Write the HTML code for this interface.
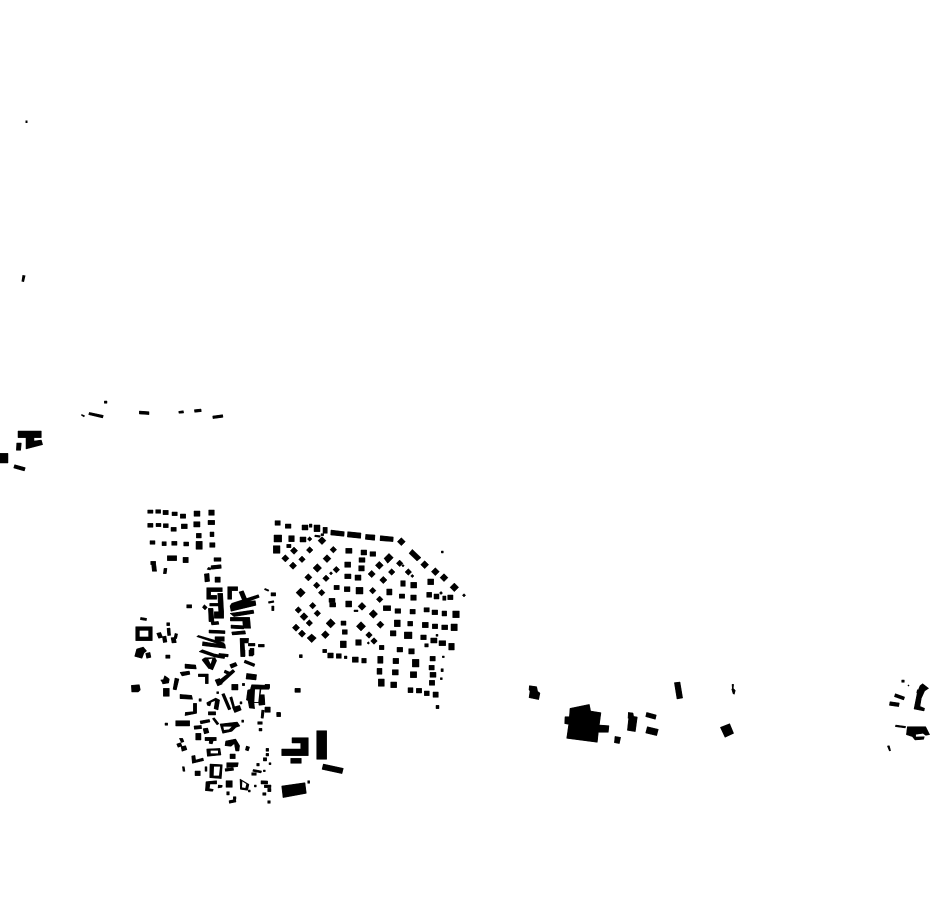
<!DOCTYPE html>
<html><head><meta charset="utf-8"><style>html,body{margin:0;padding:0;background:#fff;width:930px;height:924px;overflow:hidden}svg{display:block}.h{fill:#fff;stroke:none}</style></head><body>
<svg width="930" height="924" viewBox="0 0 930 924" xmlns="http://www.w3.org/2000/svg" fill="#000">
<rect width="930" height="924" fill="#fff"/>
<path d="M25.500 120.500h2v2.500h-2zM22.500 275l3 .5-1.500 6.500-2.500-.5z"/>
<g stroke="#000" stroke-width="1.500">
<!-- zoom4 -->
<g transform="translate(0,395) scale(.33333)"><path d="M54 108h70v20h-22v10l22-3 4 14-50 13v-34h-24zM50 144h14l-2 22h-13zM0 175h24v29h-24zM44 209l32 9-3 10-32-9zM245 58l9 4-2 4-8-5zM268 52l42 9-2 8-42-10zM313 18h8v7h-8zM418 48l29 2v9l-29-2zM536 49l14-2 1 7-14 1zM583 44l20-2 1 8-20 2zM638 63l30-4 1 8-30 4z"/></g>
<!-- zoom1 -->
<g transform="translate(125,500) scale(.33333)"><path d="M68 30h16v10h-16zM92 29h15v11h-15zM114 31h16v13h-16zM141 36h16v11h-16zM166 42h16v13h-16zM207 33h18v16h-18zM251 30h17v16h-17zM68 70h16v12h-16zM93 70h15v10h-15zM115 71h15v12h-15zM138 82h16v12h-16zM169 72h18v14h-18zM206 65h19v16h-19zM249 61h20v13h-20zM214 100h15v14h-15zM255 96h12v14h-12zM75 122h15v11h-15zM111 125h13v12h-13zM140 124h16v12h-16zM176 126h15v12h-15zM213 124h19v24h-19zM254 128h16v14h-16zM127 167h28v15h-28zM174 172h16v16h-16zM77 184h15v6l3 24h-13l-2-20h-3zM117 205h9l-2 16h-9zM267 173h21v11h-21zM246 208l4-6 9 2-3 6zM258 197l30-3 1 11-30 3zM238 222l14-2 2 24-14 2zM270 231h16v16h-16zM245 263h47v12h-35v11h18v12h-30zM278 280h15l3 55h-15zM254 310h40v8h-40zM250 325h14l3 40h-15zM268 335h28v20h-28zM258 366l22-2 2 9-22 2zM308 260h30v12h-18v26h-12zM342 276l13-4 10 24-13 4zM320 310l80-26 3 8-32 12 20-2 2 14-75 18-3-16zM315 340l70-10 2 10-60 10zM316 352h58l3 33h-22l-2-22h-37zM318 375l38 2v10l-38-2zM320 396l40-4 2 10-40 3zM345 415h26l-1 14h-12l2 41h-13zM370 430h20v8h-20zM375 445h12v20h-12zM400 433h18v8h-18zM185 314h15v10h-15zM238 314l9 8-7 8-8-8zM420 265l12 5-2 4-12-5zM438 278h14v10h-14zM430 305l16-3 1 5-16 3zM440 318h7v14h-7zM47 352l18 3-1 7-18-3zM32 380h50v42h-50zM125 368h9v9h-9z"/><path class="h" d="M44 392h26v18h-26z"/><path d="M95 400l12-3 6 15-12 3zM112 410l11-2 3 18-11 2zM126 385l9-1 2 22-9 1zM150 400l8 2-3 14-8-2zM138 413l13-1 3 16-13 1zM215 410l5-4 78 23-2 8zM252 390l48 2v9l-48-2zM233 425l30 5 37 3 2 12-70-8zM270 410h28v14h-28zM222 455l10-6 40 14-4 8zM270 462l30 6-2 8-30-5zM35 447l20-6 10 12-8 6-6 16-22-6zM62 460l13-3 3 15-13 3zM122 465h13v10h-13z"/></g>
<!-- zoom2 -->
<g transform="translate(125,650) scale(.33333)"><path d="M526 14h6v9h-6zM282 10l28 3-1 8-28-3zM348 0h12v18h-12zM372 0h12v18h-12zM360 30l30 12-3 8-30-12zM232 28l8-5 30 0 5 9-12 28-9-4-3 0-20-26zM180 42l32 3 2 12-34-2zM165 67l28-4 2 10-24 5zM150 84l12 3-8 33-10-2zM107 90l8-1 4-12 9 6 5 4-2 12-18 3-1-4zM115 115h18v24h-18zM220 72h30v29h-9v-21h-21zM270 90l14-5 8 17-14 6zM284 90l40-32 6 7-40 36zM314 44l18-7 5 10-18 8zM300 60l18 8-3 8-18-8zM365 70l30 4-2 16-30-3zM320 103h19v17h-19zM352 100h7v7h-7zM19 106l24-2 3 16-6 6h-20zM510 116h16v11h-16zM380 104l54 2-2 12-24 0-2 16 12 0 2 30-18 2-1-8h-14l2 18-16-2-4-22-5-2 4-30 8-2zM420 172h15v14h-15zM410 180l8 1-3 24-7-1zM455 188h12v12h-12zM165 133l35 3 3 12-38-2zM222 146h7v8h-7zM205 160h10v30l-35 7 1-10 24-2zM245 158l27-14 12 6-5 30-12-4 4-24-12 4-4 12-8-2zM250 185h22v10h-22zM275 125h6v6h-6zM290 133l8-3 20 47-8 3zM314 143l7-3 8 30-6 2zM322 172l22-6 5 14-20 8zM345 155h6v7h-6zM120 219h8v7h-8zM152 212h42v16h-42zM225 213l28-5 2 8-28 6zM262 206l6-3 14 18-6 4zM207 228l22-2 1 10-22 2zM212 250h16v20h-16zM234 236l14-2 4 14-14 4zM240 262h34v10h-34zM285 222l52-6 8 12-12 4-12 12-28 6zM350 210h6v7h-6zM398 215h14v8h-14zM402 235h9v8h-9z"/><path class="h" d="M390 118h14l-4 38h-12zM295 230h25l-8 8-15 2zM250 28l12-2-5 16z"/><path d="M254 268h12l-4 14-10-2zM163 265h10l4 10-8 3zM155 282l12-4 4 10-12 4zM168 290l14-3 4 12-15 5zM200 318l10-2 2 14 22-6 2 8-34 8zM245 297l40-2 3 20-41 4zM302 273l30-6 12 20-2 16-10 0-4-22-10 8-18-2zM315 312h16v14h-16zM364 288l10 3-4 12-9-3zM423 295h8v9h-8zM423 310h8v8h-8zM415 323h10v10h-10zM432 338h6v6h-6zM172 350h6l2 14h-6zM210 363h16v14h-16zM240 350h6v14h-6zM255 342l37 2-3 42-35-3zM305 338h35l-2 12-33 3zM300 356l25-3 1 8-25 3zM395 340h8v8h-8zM385 358l25 5-2 6-25-5zM380 368h14v8h-14zM415 360h6v5h-6zM548 392h6v8h-6zM243 395l32-3v10l-20 0-2 14 12 2-2 6-22-2zM280 405l12 1-1 6-12 2zM303 392h19v20h-19zM345 387l27 16-4 18-22-3zM305 425h8v10h-8zM312 452l20-4 1 8-20 4zM325 440h8v8h-8zM370 420h6v6h-6zM388 405h6v6h-6zM408 392l20 1v9h-20zM418 405h20v8h-20zM428 415h10v10h-10zM413 428h10v8h-10zM428 452h8v8h-8z"/><path class="h" d="M267 350h18l-3 27h-16zM257 302h22v8h-22zM352 394l12 8-3 12-10-2z"/><path d="M501 263h49v54h-80v-20h57v-18h-26zM497 325h32v15h-32zM575 242h30v86h-30zM595 342l60 13-4 16-60-13zM470 408l70-10 4 32-70 13z"/></g>
<!-- zoom3 -->
<g transform="translate(265,515) scale(.33333)">
<path d="M30 17h16v14h-16zM61 27h17v13h-17zM111 30h18v15h-18zM133 27h8v10h-8zM147 30h18v20h-18zM174 37h13v18h-13zM198 45l40 5-1 14-40-4zM248 50l40 4-1 16-40-4zM302 58l28 2-1 16-28-3zM346 62l39 4-1 14-39-3zM27 60h23v21h-23zM71 62h17v18h-17zM105 66h18v15h-18zM150 60l16 2-1 5-16-2zM168 56h8v6h-8zM25 92h20v23h-20zM65 88h13v10h-13zM242 100h19v15h-19zM288 105h17v15h-17zM315 110h17v14h-17zM357 130l15-15 13 13-17 17zM432 115l10-12 26 25-12 10zM529 108h6v6h-6zM282 128h18v14h-18zM239 141h18v16h-18zM281 152h17v16h-17zM239 177h19v14h-19zM270 180h18v16h-18zM207 211h16v13h-16zM238 215h17v15h-17zM273 217h21v20h-21zM407 197h14v17h-14zM437 202h18v17h-18zM488 192h18v17h-18zM365 222h16v18h-16zM403 237h16v13h-16zM437 240h17v16h-17zM485 232h15v15h-15zM507 237h15v15h-15zM533 243h10v13h-10zM548 240h16v14h-16zM192 250h18v12h-18zM194 263h18v13h-18zM242 258h18v18h-18zM355 272h22v15h-22zM390 281h17v14h-17zM435 283h16v14h-16zM477 278h16v13h-16zM501 285h17v14h-17zM531 288h14v15h-14zM563 288h20v20h-20zM267 285h12v5h-12zM228 318h15v13h-15zM388 315h18v20h-18zM428 319h15v14h-15zM472 322h18v16h-18zM502 327h16v14h-16zM530 330h18v14h-18zM558 327h19v20h-19zM232 344h15v14h-15zM376 347h17v16h-17zM418 351h23v20h-23zM467 360h17v14h-17zM513 358h6v6h-6zM497 369h19v15h-19zM522 377h20v15h-20zM551 385h17v20h-17zM226 378h18v20h-18zM272 374h17v17h-17zM479 386h11v10h-11zM343 391h14v13h-14zM396 397h17v14h-17zM431 401h17v16h-17zM173 403h12v10h-12zM188 414h17v15h-17zM214 416h15v14h-15zM238 423h8v8h-8zM262 426h18v16h-18zM290 430h14v14h-14zM338 424h16v21h-16zM384 430h17v16h-17zM442 433h20v23h-20zM495 424h16v14h-16zM532 423h6v5h-6zM103 419h8v9h-8zM336 460h15v18h-15zM382 464h18v16h-18zM436 470h19v18h-19zM492 451h16v14h-16zM528 461h7v9h-7zM495 472h18v15h-18zM526 488h6v6h-6zM340 492h18v22h-18zM377 501h18v17h-18zM493 496h16v15h-16zM429 518h15v15h-15zM454 520h16v14h-16zM478 528h15v14h-15zM504 531h16v16h-16zM513 571h9v10h-9zM90 520h16v12h-16zM0 508h14v12h-14zM0 576h16v16h-16zM35 592h11v8h-11z"/>
<path d="M409 80m-12 0l12-12 12 12-12 12zM134 72m-7 0l7-7 7 7-7 7zM171 77m-12 0l12-12 12 12-12 12zM87 107m-11 0l11-11 11 11-11 11zM134 105m-10 0l10-10 10 10-10 10zM205 104m-10 0l10-10 10 10-10 10zM61 130m-11 0l11-11 11 11-11 11zM111 133m-10 0l10-10 10 10-10 10zM186 131m-12 0l12-12 12 12-12 12zM84 152m-11 0l11-11 11 11-11 11zM157 159m-13 0l13-13 13 13-13 13zM343 151m-12 0l12-12 12 12-12 12zM404 145m-10 0l10-10 10 10-10 10zM479 149m-12 0l12-12 12 12-12 12zM414 152m-4 0l4-4 4 4-4 4zM130 187m-11 0l11-11 11 11-11 11zM183 190m-10 0l10-10 10 10-10 10zM198 175m-5 0l5-5 5 5-5 5zM214 164m-10 0l10-10 10 10-10 10zM320 177m-11 0l11-11 11 11-11 11zM380 171m-10 0l10-10 10 10-10 10zM430 171m-10 0l10-10 10 10-10 10zM442 183m-5 0l5-5 5 5-5 5zM511 170m-12 0l12-12 12 12-12 12zM537 188m-12 0l12-12 12 12-12 12zM155 211m-10 0l10-10 10 10-10 10zM355 195m-11 0l11-11 11 11-11 11zM568 217m-13 0l13-13 13 13-13 13zM107 233m-14 0l14-14 14 14-14 14zM170 233m-10 0l10-10 10 10-10 10zM323 227m-10 0l10-10 10 10-10 10zM528 234m-5 0l5-5 5 5-5 5zM597 241m-5 0l5-5 5 5-5 5zM344 253m-10 0l10-10 10 10-10 10zM291 274m-12 0l12-12 12 12-12 12zM143 272m-10 0l10-10 10 10-10 10zM100 285m-10 0l10-10 10 10-10 10zM157 295m-10 0l10-10 10 10-10 10zM325 297m-13 0l13-13 13 13-13 13zM117 305m-12 0l12-12 12 12-12 12zM133 324m-10 0l10-10 10 10-10 10zM197 325m-14 0l14-14 14 14-14 14zM288 334m-14 0l14-14 14 14-14 14zM346 329m-11 0l11-11 11 11-11 11zM93 338m-11 0l11-11 11 11-11 11zM111 356m-11 0l11-11 11 11-11 11zM140 369m-14 0l14-12 14 12-14 14zM181 359m-12 0l12-12 12 12-12 12zM312 360m-10 0l10-10 10 10-10 10zM327 378m-10 0l10-10 10 10-10 10zM310 384m-4 0l4-4 4 4-4 4z"/>
</g>
<!-- zoom5 -->
<g transform="translate(520,675) scale(.33333)"><path d="M28 32l22 3 3 14 7 5-4 20-29-6 3-20-3-3zM150 100l58-12 4 20 31 5-5 37 29 2-2 20h-30l-3 30-92-12 6-42-12-2 1-21 13 0zM285 184l17 3-4 19-15-3zM325 112l14 2 2 10 11 2-6 44-24-4 4-36-2 0zM380 112l29 8-3 13-29-8zM382 155l33 8-5 19-33-8zM463 23l17-2 8 48-17 3zM636 28l5 0-1 12 6 6-3 12-4-2-4-14 2 0zM601 157l28-11 12 29-26 12z"/></g>
<!-- zoom6 -->
<g transform="translate(880,675) scale(.33333)"><path d="M65 15h8v7h-8zM84 30h3v3h-3zM46 56l28 10-3 9-28-10zM30 80l28 4-2 11-28-4zM128 26l18 14-12 8-10 22-4 24 14 6-2 8-30-6 10-50 8-20zM112 44l10 2-2 10-10-2zM47 150l30 4-1 5-30-4zM82 155l55 0 12 24-12 2-8-6-22 3 0 8 26-1-2 8-26 2-8-10-18-6zM22 213l6-1 4 15-4 1z"/></g>
</g>
</svg>
</body></html>
